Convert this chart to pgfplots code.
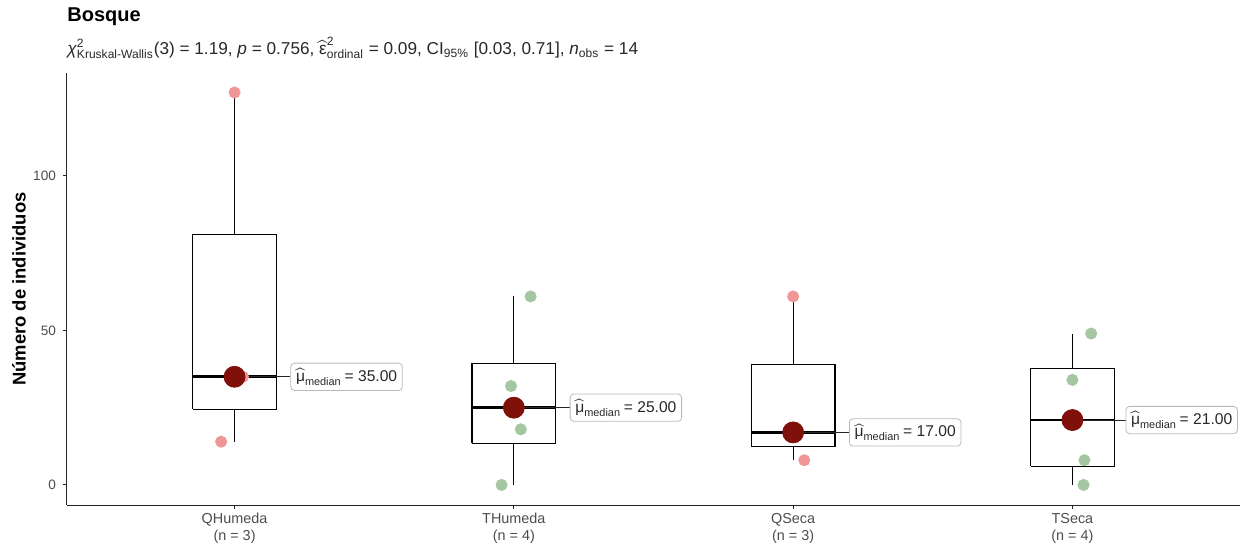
\documentclass[border=0pt]{standalone}
\usepackage{amsmath}
\usepackage{fontspec}
\setmainfont{Liberation Sans}
\usepackage{pgfplots}
\pgfplotsset{compat=1.18}
\definecolor{pinkpt}{RGB}{241,150,150}
\definecolor{greenpt}{RGB}{164,198,160}
\definecolor{medred}{RGB}{128,16,10}
\definecolor{tickgray}{RGB}{77,77,77}
\definecolor{framegray}{RGB}{185,185,185}
\definecolor{labtext}{RGB}{40,40,40}
\begin{document}
\begin{tikzpicture}
\begin{axis}[
  scale only axis, width=586.5pt, height=216pt,
  xmin=0.4, xmax=4.6, ymin=-6.5, ymax=133.3,
  axis x line*=bottom, axis y line*=left,
  axis line style={-, line width=0.5pt, black!85},
  clip=false,
  xtick={1,2,3,4},
  xticklabels={{QHumeda\\(n = 3)},{THumeda\\(n = 4)},{QSeca\\(n = 3)},{TSeca\\(n = 4)}},
  xticklabel style={align=center, font=\fontsize{7.2}{8.4}\selectfont, text=tickgray, inner sep=2pt},
  ytick={0,50,100},
  yticklabels={0,50,100},
  yticklabel style={font=\fontsize{6.8}{8}\selectfont, text=tickgray},
  tick align=outside, major tick length=2pt,
  tick style={line width=0.5pt, black!85},
  ylabel={Número de individuos},
  ylabel style={at={(axis description cs:-0.041,0.5)}, anchor=center, font=\fontsize{9.2}{10}\selectfont\bfseries},
  unbounded coords=jump,
]
% data points (jittered)
\addplot[only marks, mark=*, mark size=2.8pt, color=pinkpt] coordinates {(1.00,127) (0.952,14) (1.03,35) (3.00,61) (3.04,8) (3.01,17)};
\addplot[only marks, mark=*, mark size=2.8pt, color=greenpt] coordinates {(2.06,61) (1.99,32) (2.025,18) (1.956,0) (4.067,49) (4.00,34) (4.043,8) (4.04,0)};
% boxes
\addplot[black, line width=0.55pt, mark=none] coordinates {
 (0.85,24.5) (1.15,24.5) (1.15,81) (0.85,81) (0.85,24.5) (nan,nan)
 (1.85,13.5) (2.15,13.5) (2.15,39.25) (1.85,39.25) (1.85,13.5) (nan,nan)
 (2.85,12.5) (3.15,12.5) (3.15,39) (2.85,39) (2.85,12.5) (nan,nan)
 (3.85,6) (4.15,6) (4.15,37.75) (3.85,37.75) (3.85,6)};
% whiskers
\addplot[black, line width=0.55pt, mark=none] coordinates {
 (1,14) (1,24.5) (nan,nan) (1,81) (1,127) (nan,nan)
 (2,0) (2,13.5) (nan,nan) (2,39.25) (2,61) (nan,nan)
 (3,8) (3,12.5) (nan,nan) (3,39) (3,61) (nan,nan)
 (4,0) (4,6) (nan,nan) (4,37.75) (4,49)};
% median lines
\addplot[black, line width=1.3pt, mark=none] coordinates {
 (0.85,35) (1.15,35) (nan,nan) (1.85,25) (2.15,25) (nan,nan)
 (2.85,17) (3.15,17) (nan,nan) (3.85,21) (4.15,21)};
% medians
\addplot[only marks, mark=*, mark size=5.25pt, color=medred] coordinates {(1,35) (2,25) (3,17) (4,21)};
% label segments
\addplot[black!85, line width=0.45pt, mark=none] coordinates {(1,35) (1.2,35) (nan,nan) (2,25) (2.2,25) (nan,nan) (3,17) (3.2,17) (nan,nan) (4,21) (4.19,21)};
\tikzset{lab/.style={draw=framegray, line width=0.4pt, fill=white, rounded corners=1.8pt, anchor=west, inner xsep=2.6pt, inner ysep=2.6pt, text=labtext, font=\fontsize{7.8}{9}\selectfont}}
\node[lab] at (axis cs:1.2,35) {$\widehat{\text{μ}}_{\text{median}}\,$= 35.00};
\node[lab] at (axis cs:2.2,25) {$\widehat{\text{μ}}_{\text{median}}\,$= 25.00};
\node[lab] at (axis cs:3.2,17) {$\widehat{\text{μ}}_{\text{median}}\,$= 17.00};
\node[lab] at (axis cs:4.19,21) {$\widehat{\text{μ}}_{\text{median}}\,$= 21.00};
% title & subtitle
\node[anchor=base west, inner sep=0pt, font=\fontsize{10}{12}\selectfont\bfseries] at (axis description cs:0,1.12) {Bosque};
\node[anchor=base west, inner sep=0pt, font=\fontsize{8.6}{9.5}\selectfont, text=labtext] at (axis description cs:0,1.042) {\textit{χ}$^{\text{2}}_{\text{Kruskal-Wallis}}$(3) = 1.19, \textit{p} = 0.756, $\widehat{\text{ε}}^{\text{2}}_{\text{ordinal}}$ = 0.09, CI$_{\text{95\%}}$ [0.03, 0.71], \textit{n}$_{\text{obs}}$ = 14};
\coordinate (sw) at (axis description cs:-0.0571,-0.1065);
\coordinate (ne) at (axis description cs:1.00426,1.169);
\end{axis}
\useasboundingbox (sw) rectangle (ne);
\end{tikzpicture}
\end{document}
